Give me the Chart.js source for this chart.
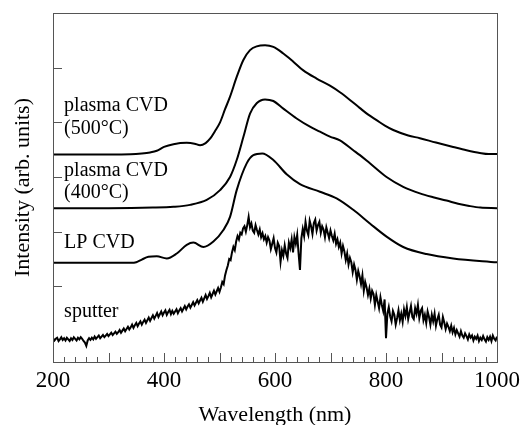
<!DOCTYPE html>
<html>
<head>
<meta charset="utf-8">
<script src="https://cdn.jsdelivr.net/npm/chart.js@4.4.0/dist/chart.umd.min.js"></script>
<style>
  body { margin: 0; background: #fff; }
  canvas { display: block; }
</style>
</head>
<body>
<canvas id="plChart" width="525" height="425"></canvas>
<script>
const ctx = document.getElementById('plChart').getContext("2d");

// x tick labels and y tick marks (arbitrary offset units)
const x_labels = [200, 400, 600, 800, 1000];
const y_marks = [1, 2, 3, 4, 5];

// plasma CVD (500C), offset trace
const wl_500 = [200, 300, 340, 360, 375, 387, 400, 417, 441, 455, 465, 475, 483, 492, 501, 510, 519, 531, 543, 555, 567, 582, 597, 615, 633, 651, 675, 699, 717, 735, 753, 768, 783, 798, 813, 840, 861, 890, 921, 945, 969, 985, 1000];
const pl_500 = [3.41, 3.41, 3.415, 3.43, 3.45, 3.48, 3.55, 3.60, 3.625, 3.61, 3.58, 3.62, 3.70, 3.84, 4.00, 4.24, 4.47, 4.83, 5.14, 5.32, 5.39, 5.41, 5.38, 5.26, 5.11, 4.95, 4.80, 4.67, 4.55, 4.41, 4.26, 4.14, 4.04, 3.94, 3.86, 3.76, 3.71, 3.63, 3.55, 3.49, 3.44, 3.42, 3.42];

// plasma CVD (400C)
const wl_400 = [200, 300, 380, 417, 447, 477, 501, 519, 531, 543, 555, 567, 582, 597, 615, 639, 663, 681, 699, 717, 741, 753, 771, 801, 831, 861, 885, 909, 930, 950, 970, 1000];
const pl_400 = [2.43, 2.43, 2.44, 2.455, 2.49, 2.58, 2.76, 3.00, 3.31, 3.73, 4.16, 4.35, 4.42, 4.39, 4.25, 4.07, 3.92, 3.83, 3.74, 3.67, 3.49, 3.40, 3.25, 3.00, 2.82, 2.70, 2.63, 2.57, 2.51, 2.47, 2.44, 2.43];

// LP CVD
const wl_lp = [200, 300, 340, 350, 360, 372, 387, 405, 423, 441, 453, 471, 489, 507, 519, 531, 549, 561, 577, 597, 621, 645, 681, 711, 741, 771, 801, 831, 873, 921, 1000];
const pl_lp = [1.43, 1.43, 1.43, 1.44, 1.49, 1.54, 1.55, 1.51, 1.60, 1.76, 1.80, 1.72, 1.82, 2.03, 2.27, 2.76, 3.25, 3.40, 3.43, 3.31, 3.05, 2.87, 2.73, 2.61, 2.40, 2.15, 1.91, 1.72, 1.59, 1.51, 1.44];

// sputter (noisy), every 2.5 nm from 200 to 1000
const pl_sputter = [
  0.05, 0.01, 0.04, 0.06, 0.00, 0.03, 0.07, 0.02, 0.05, 0.01,
  0.06, 0.03, 0.00, 0.05, 0.02, 0.07, 0.04, 0.01, 0.06, 0.03,
  0.07, 0.04, 0.00, -0.03, -0.09, 0.01, 0.05, 0.02, 0.06, 0.03,
  0.08, 0.04, 0.07, 0.10, 0.05, 0.08, 0.11, 0.07, 0.10, 0.13,
  0.09, 0.12, 0.15, 0.11, 0.14, 0.17, 0.13, 0.16, 0.20, 0.15,
  0.19, 0.23, 0.18, 0.22, 0.26, 0.21, 0.25, 0.30, 0.24, 0.29,
  0.33, 0.27, 0.32, 0.36, 0.30, 0.35, 0.39, 0.33, 0.38, 0.43,
  0.37, 0.42, 0.47, 0.41, 0.46, 0.51, 0.44, 0.49, 0.54, 0.47,
  0.52, 0.56, 0.48, 0.53, 0.57, 0.49, 0.55, 0.50, 0.54, 0.58,
  0.51, 0.56, 0.60, 0.54, 0.59, 0.64, 0.58, 0.63, 0.67, 0.61,
  0.66, 0.71, 0.65, 0.70, 0.75, 0.69, 0.74, 0.79, 0.72, 0.78,
  0.84, 0.77, 0.82, 0.88, 0.80, 0.86, 0.92, 0.85, 0.91, 0.97,
  0.90, 0.98, 1.08, 1.04, 1.20, 1.30, 1.38, 1.50, 1.48, 1.62,
  1.72, 1.66, 1.82, 1.92, 1.86, 1.98,
  1.95, 2.06, 2.10, 2.00, 2.12, 2.27, 2.08, 2.15, 2.02, 1.98,
  2.12, 2.03, 1.95, 2.04, 1.90, 1.97, 1.86, 1.92, 1.80, 1.90,
  1.84, 1.68, 1.78, 1.88, 1.70, 1.62, 1.80, 1.74, 1.45, 1.66,
  1.56, 1.75, 1.60, 1.52, 1.80, 1.70, 1.86, 1.62, 1.90, 1.78,
  1.94, 1.60, 1.30, 1.88, 2.05, 1.92, 2.18, 2.02, 1.94, 2.20,
  2.10, 1.96, 2.16, 2.22, 2.02, 2.12, 2.18, 1.98, 2.10, 2.04,
  1.90, 2.08, 1.98, 1.88, 2.02, 1.92, 1.84, 1.96, 1.78, 1.86,
  1.72, 1.80, 1.60, 1.74, 1.64, 1.48, 1.60, 1.40, 1.52, 1.44,
  1.26, 1.40, 1.30, 1.12, 1.28, 1.18, 1.04, 1.20, 0.92, 1.08,
  0.98, 0.84, 0.96, 0.78, 0.92, 0.86, 0.66, 0.84, 0.72, 0.60,
  0.80, 0.66, 0.55, 0.76,
  0.05, 0.50, 0.62, 0.45, 0.36, 0.55, 0.48, 0.30, 0.42, 0.56,
  0.38, 0.50, 0.35, 0.58, 0.46, 0.62, 0.40, 0.52, 0.64, 0.44,
  0.40, 0.60, 0.50, 0.66, 0.42, 0.55, 0.60, 0.38, 0.48, 0.33,
  0.54, 0.44, 0.30, 0.48, 0.36, 0.50, 0.28, 0.40, 0.48, 0.30,
  0.25, 0.44, 0.34, 0.22, 0.32, 0.26, 0.18, 0.28, 0.16, 0.24,
  0.12, 0.20, 0.14, 0.08, 0.18, 0.10, 0.06, 0.14, 0.09, 0.03,
  0.12, 0.06, 0.10, 0.01, 0.08, 0.04, 0.10, 0.00, 0.06, 0.02,
  0.09, 0.03, -0.01, 0.07, 0.02, 0.08, 0.00, 0.10, 0.04, 0.01,
  0.08
];
const wl_sputter = pl_sputter.map((v, i) => 200 + i * 2.5);

// text labels placed in data coordinates
const label_text = ["plasma CVD", "(500°C)", "plasma CVD", "(400°C)", "LP CVD", "sputter"];
const label_x = [220, 220, 220, 220, 220, 220];
const label_y = [4.30, 3.89, 3.11, 2.71, 1.79, 0.53];

function toPoints(xs, ys) {
    return xs.map((x, i) => ({x: x, y: ys[i]}));
}

const smoothLine = {
    borderColor: "#000",
    borderWidth: 2,
    pointRadius: 0,
    cubicInterpolationMode: 'monotone',
    fill: false,
};

const pl_data = {
    datasets: [
        Object.assign({label: "plasma CVD (500°C)", data: toPoints(wl_500, pl_500)}, smoothLine),
        Object.assign({label: "plasma CVD (400°C)", data: toPoints(wl_400, pl_400)}, smoothLine),
        Object.assign({label: "LP CVD", data: toPoints(wl_lp, pl_lp)}, smoothLine),
        {
            label: "sputter",
            data: toPoints(wl_sputter, pl_sputter),
            borderColor: "#000",
            borderWidth: 2,
            pointRadius: 0,
            tension: 0,
            fill: false,
        },
    ]
};

// inward tick marks, frame and in-plot labels
const framePlugin = {
    id: 'frame',
    afterDatasetsDraw(chart) {
        const c = chart.ctx;
        const area = chart.chartArea;
        const xs = chart.scales.x;
        const ys = chart.scales.y;
        c.save();
        c.strokeStyle = "#555";
        c.lineWidth = 1;
        c.beginPath();
        for (let v = 200; v <= 1000; v += 20) {
            const px = Math.round(xs.getPixelForValue(v)) + 0.5;
            const len = (v % 100 === 0) ? 9 : 5;
            c.moveTo(px, area.bottom);
            c.lineTo(px, area.bottom - len);
        }
        y_marks.forEach(v => {
            const py = Math.round(ys.getPixelForValue(v)) + 0.5;
            c.moveTo(area.left, py);
            c.lineTo(area.left + 9, py);
        });
        c.stroke();
        c.strokeRect(Math.round(area.left) + 0.5, Math.round(area.top) + 0.5,
            Math.round(area.right - area.left), Math.round(area.bottom - area.top));

        c.fillStyle = "#000";
        c.font = '20px "Liberation Serif"';
        c.textBaseline = 'middle';
        c.textAlign = 'left';
        label_text.forEach((t, i) => {
            c.fillText(t, xs.getPixelForValue(label_x[i]), ys.getPixelForValue(label_y[i]));
        });
        c.restore();
    }
};

const pl_config = {
    type: 'line',
    data: pl_data,
    options: {
        responsive: false,
        animation: false,
        layout: {
            padding: {top: 13, right: 28, left: 0, bottom: 0}
        },
        plugins: {
            legend: {display: false},
            tooltip: {enabled: false},
        },
        scales: {
            x: {
                type: 'linear',
                min: 200,
                max: 1000,
                afterFit: (scale) => { scale.height = 63; },
                afterBuildTicks: (scale) => { scale.ticks = x_labels.map(v => ({value: v})); },
                grid: {display: false, drawTicks: false},
                border: {display: false},
                ticks: {
                    color: "#000",
                    padding: 5,
                    maxRotation: 0,
                    callback: (v) => String(v),
                    font: {family: '"Liberation Serif"', size: 23},
                },
                title: {
                    display: true,
                    text: "Wavelength (nm)",
                    color: "#000",
                    font: {family: '"Liberation Serif"', size: 22},
                    padding: {top: 0, bottom: -3},
                },
            },
            y: {
                type: 'linear',
                min: -0.384,
                max: 6.0,
                afterFit: (scale) => { scale.width = 53; },
                grid: {display: false, drawTicks: false},
                border: {display: false},
                ticks: {display: false},
                title: {
                    display: true,
                    text: "Intensity (arb. units)",
                    color: "#000",
                    font: {family: '"Liberation Serif"', size: 22},
                    padding: {top: 10, bottom: 0},
                },
            },
        },
    },
    plugins: [framePlugin],
};

const plChart = new Chart(ctx, pl_config);
</script>
</body>
</html>
